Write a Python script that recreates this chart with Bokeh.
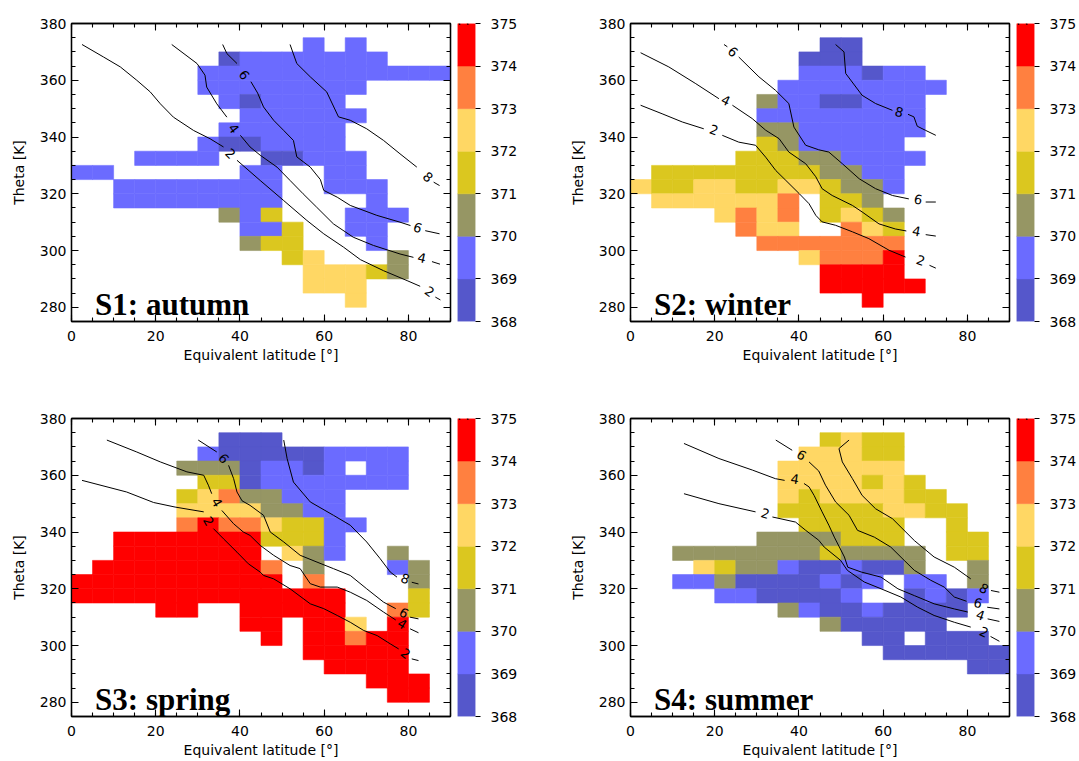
import math
from bokeh.plotting import figure
from bokeh.layouts import row, column
from bokeh.models import ColumnDataSource, LinearAxis, FixedTicker, Range1d, Label
from bokeh.embed import file_html
from bokeh.resources import INLINE
from bokeh.core.properties import value

FONT = "DejaVu Sans"

# ---------------- data ----------------
# colour scale (ppmv)
ppmv_bounds = [368, 369, 370, 371, 372, 373, 374, 375]
ppmv_colors = ["#5557CB", "#6B6BFF", "#969664", "#DBC71F", "#FFD764", "#FF8040", "#FF0000"]

# grid cells: 5 deg equivalent latitude x 5 K theta
lat_cell_left = list(range(0, 90, 5))            # 18 columns
theta_row_bottom = list(range(375, 270, -5))     # 21 rows, top to bottom
# each char: '.' = no data, digit k = mean CO2 in bin [368+k, 369+k) ppmv
s1_cells = [
    "..................",
    "...........1.1....",
    ".......01111111...",
    "......111111111111",
    "......11111111....",
    ".......101111.....",
    "........111111....",
    ".......111111.....",
    "......1001111.....",
    "...1111..00111....",
    "11......11..11....",
    "..11111111..111...",
    "..11111111....1...",
    ".......213...111..",
    "........113..11...",
    "........233...1...",
    "..........34...2..",
    "...........44432..",
    "...........444....",
    ".............4....",
    "..................",
]
s2_cells = [
    "..................",
    ".........00.......",
    "........000.......",
    "........111011....",
    ".......11111111...",
    "......21100111....",
    "......11111111....",
    "......22111111....",
    "......3211111.....",
    ".....333221111....",
    ".333333332211.....",
    "4334433443221.....",
    ".4444445.332......",
    "....4545.3432.....",
    ".....544..543.....",
    "......5555555.....",
    "........45556.....",
    ".........6666.....",
    ".........66666....",
    "...........6......",
    "..................",
]
s3_cells = [
    "..................",
    ".......000........",
    "......1000001111..",
    ".....22201101.11..",
    "......3301111111..",
    ".....34522111.....",
    ".....44442211.....",
    ".....565543311....",
    "..66666663331.....",
    "..6666666.421..2..",
    ".666666665.2...12.",
    "6666666666.5....2.",
    "6666666666666...3.",
    "....66..66666..53.",
    "........66.664.6..",
    ".........6.66566..",
    "...........66666..",
    "............6666..",
    "..............666.",
    "...............66.",
    "..................",
]
s4_cells = [
    "..................",
    ".........3433.....",
    "........44433.....",
    ".......444444.....",
    ".......4444343....",
    ".......43444433...",
    ".......333334433..",
    "........33333..3..",
    "......2222333..33.",
    "..222222232222.33.",
    "...43221001002..2.",
    "..1120000101.11.2.",
    "....1100001..0101.",
    ".......210010000..",
    ".........200000...",
    "...........00.000.",
    "............000000",
    "................00",
    "..................",
    "..................",
    "..................",
]

# PV contours (lat, theta); None = break where a label sits
s1_pv2 = [(2.5,372.6),(7.6,368.2),(11.6,364.7),(15.5,360.0),(18.7,355.9),(21.1,351.7),(24.2,347.0),(29.0,342.3),(32.9,339.4),(36.1,336.5),None,(39.3,331.8),(44.8,324.7),(50.4,317.6),(55.9,310.6),(59.9,305.9),(64.6,301.2),(68.6,296.8),(74.1,292.9),(79.7,289.4),(82.8,287.4),None,(86.4,283.6),(87.6,282.6)]
s1_pv4 = [(23.8,372.6),(29.8,365.9),(31.7,361.8),(32.1,357.6),(34.5,351.7),(36.9,347.0),None,(40.1,340.6),(42.4,336.5),(44.8,333.6),(48.8,329.4),(51.9,324.7),(55.0,320.0),(58.2,315.3),(62.2,309.4),(66.9,304.7),(71.7,301.8),(78.0,298.8),(81.2,297.6),None,(85.6,296.1),(87.5,295.2)]
s1_pv6 = [(35.9,372.6),(36.9,369.4),(39.3,365.9),None,(42.6,359.5),(44.2,355.5),(45.6,350.6),(48.0,345.9),(50.4,342.3),(52.7,338.8),(53.5,333.0),(56.7,329.4),(59.1,325.0),(59.9,321.2),(63.1,318.8),(66.2,315.9),(72.5,312.4),(78.0,310.0),(80.5,308.8),None,(84.0,307.0),(87.4,305.9)]
s1_pv8 = [(51.9,372.6),(53.5,365.9),(56.7,361.2),(60.6,355.9),(63.4,347.1),(66.2,345.9),(70.1,342.9),(74.1,338.8),(78.0,334.1),(82.0,329.4),None,(86.0,324.1),(87.4,322.9)]
s1_pv_labels = [(2,37.7,334.1),(2,85.0,285.5),(4,38.5,343.0),(4,83.2,297.4),(6,41.0,361.8),(6,82.2,308.0),(8,84.6,325.9)]

s2_pv2 = [(2.4,351.2),(7.5,348.2),(12.3,345.3),(17.4,342.9),None,(21.8,340.6),(25.7,338.2),(29.7,337.1),(32.1,332.9),(34.5,328.2),(36.9,324.7),(40.1,320.0),(42.4,316.5),(44.0,312.4),(45.5,310.1),(48.7,308.9),(52.7,306.6),(56.6,304.2),(61.4,300.1),(65.3,297.7),None,(71.0,294.8),(72.5,293.8)]
s2_pv4 = [(2.4,369.7),(9.1,364.7),(15.5,358.8),(21.0,353.5),None,(24.2,351.2),(28.9,346.5),(32.1,342.4),(35.3,339.4),(37.6,334.7),(41.6,330.6),(44.0,326.0),(45.5,321.8),(47.9,319.4),(52.7,315.9),(55.0,313.6),(59.0,309.4),(62.9,307.6),(65.5,306.9),None,(70.1,305.6),(72.5,305.1)]
s2_pv6 = [(22.2,372.6),(23.0,371.8),None,(25.7,368.2),(30.5,361.2),(34.4,356.5),(37.6,351.8),(38.8,343.5),(41.6,337.1),(44.7,335.5),(47.1,334.7),(50.3,330.6),(54.3,325.3),(58.2,321.8),(62.2,319.4),(66.1,318.2),None,(70.1,317.1),(72.5,317.1)]
s2_pv8 = [(48.7,372.6),(50.7,370.0),(51.1,362.4),(55.0,354.7),(58.2,351.8),(62.2,349.4),None,(65.9,348.0),(67.3,347.1),(68.1,343.8),(70.0,342.4),(72.5,340.6)]
s2_pv_labels = [(2,19.8,342.4),(2,68.9,296.5),(4,22.6,352.9),(4,67.9,306.8),(6,24.3,370.0),(6,68.3,318.0),(8,63.8,348.8)]

s3_pv2 = [(2.5,358.2),(13.1,354.1),(19.5,350.4),(24.6,348.8),(31.4,347.1),None,(33.7,341.2),(36.1,337.6),(39.3,332.9),(42.0,328.8),(44.8,325.9),(45.6,324.7),(48.0,323.5),(51.9,320.0),(56.7,314.7),(59.9,313.0),(63.1,310.6),(66.2,308.2),(69.4,305.3),(72.6,303.5),(75.7,300.6),(77.7,298.8),None,(80.8,295.3),(82.4,294.7)]
s3_pv4 = [(8.4,372.4),(15.5,368.2),(21.1,364.7),(27.4,361.2),(31.4,360.0),(32.5,356.5),(33.3,353.5),None,(35.7,347.6),(38.5,342.9),(40.8,340.0),(42.4,338.8),(44.8,335.3),(48.0,331.8),(51.9,328.2),(54.3,327.1),(56.7,321.8),(59.1,320.6),(63.1,320.6),(66.2,318.8),(70.1,315.9),(74.1,311.8),(77.0,309.0),None,(80.4,305.9),(82.4,304.5)]
s3_pv6 = [(30.1,372.4),(34.5,368.2),None,(37.3,363.5),(38.5,358.8),(39.3,354.1),(40.5,351.0),(42.4,349.4),(45.6,345.9),(47.2,340.0),(50.4,336.5),(54.3,331.8),(58.3,329.4),(62.2,327.1),(66.2,324.7),(70.1,320.0),(74.1,315.3),(77.0,313.0),None,(80.4,310.0),(82.4,309.4)]
s3_pv8 = [(50.4,372.4),(51.2,365.9),(52.7,357.6),(56.7,350.6),(62.2,345.9),(66.2,342.4),(70.1,336.5),(73.3,330.6),(75.7,325.9),(77.3,324.1),None,(80.8,322.3),(82.4,321.7)]
s3_pv_labels = [(2,32.5,343.8),(2,79.3,297.1),(4,34.5,350.4),(4,78.5,307.6),(6,36.1,365.9),(6,78.9,311.5),(8,79.2,323.5)]

s4_pv2 = [(12.7,353.5),(21.0,350.0),(29.7,347.1),None,(33.7,345.3),(39.2,343.5),(41.6,340.6),(44.7,337.1),(46.0,334.7),(49.9,330.0),(51.5,326.5),(55.5,322.4),(59.5,320.0),(64.2,317.1),(68.2,313.5),(72.1,310.6),(76.9,308.2),(80.8,306.5),None,(85.5,303.2),(87.6,301.5)]
s4_pv4 = [(12.7,371.2),(21.0,365.9),(29.0,361.8),(34.4,358.8),(36.6,358.2),None,(41.2,357.1),(42.4,355.9),(43.6,352.9),(45.5,347.1),(47.1,342.4),(48.4,338.2),(50.8,331.2),(51.6,327.6),(54.8,325.9),(59.5,324.1),(63.5,320.0),(67.4,317.6),(72.1,314.7),(76.9,312.9),(80.1,311.8),None,(84.8,309.4),(87.6,308.5)]
s4_pv6 = [(34.5,372.4),(38.4,368.8),None,(42.4,364.7),(44.7,361.5),(46.3,356.5),(48.7,350.6),(51.9,345.9),(53.9,340.6),(57.9,338.2),(61.8,334.7),(65.0,330.0),(67.4,326.5),(71.3,323.0),(74.5,320.6),(76.9,317.1),(79.8,315.6),None,(84.7,313.5),(87.6,312.9)]
s4_pv8 = [(51.9,372.4),(49.5,369.4),(50.3,364.7),(52.7,358.8),(55.0,352.9),(58.2,348.2),(62.2,344.7),(67.4,337.0),(72.1,331.2),(76.9,327.6),(80.8,323.5),None,(85.6,319.4),(87.6,318.8)]
s4_pv_labels = [(2,32.0,346.5),(2,83.9,304.7),(4,39.0,358.6),(4,83.1,310.6),(6,40.6,367.1),(6,82.5,315.0),(8,83.9,320.0)]

x_ticks = [0, 20, 40, 60, 80]
x_minor = list(range(0, 91, 5))
y_ticks = [280, 300, 320, 340, 360, 380]
y_minor = list(range(275, 381, 5))

# ---------------- layout constants ----------------
FRAME_W, FRAME_H = 379, 298
KX, KY = FRAME_W / 90.0, FRAME_H / 105.0


def style_axis(ax, show_labels, ticks, minor):
    ax.ticker = FixedTicker(ticks=ticks, minor_ticks=minor)
    ax.axis_line_width = 1.3
    ax.axis_line_color = "black"
    ax.major_tick_in = 7
    ax.major_tick_out = 0
    ax.minor_tick_in = 4
    ax.minor_tick_out = 0
    ax.major_tick_line_width = 1.1
    ax.minor_tick_line_width = 1.1
    ax.major_tick_line_color = "black"
    ax.minor_tick_line_color = "black"
    if show_labels:
        ax.major_label_text_font = FONT
        ax.major_label_text_font_size = "14px"
        ax.major_label_text_color = "black"
        ax.axis_label_text_font = FONT
        ax.axis_label_text_font_size = "14px"
        ax.axis_label_text_font_style = "normal"
        ax.axis_label_text_color = "black"
    else:
        ax.major_label_overrides = {t: "" for t in ticks}
        ax.major_label_standoff = 0


def make_panel(cells, contours, labels, title, left_border, bottom_border):
    w = left_border + FRAME_W + 6
    h = 23 + FRAME_H + bottom_border
    p = figure(width=w, height=h, x_range=Range1d(0, 90), y_range=Range1d(275, 380),
               output_backend="svg", toolbar_location=None, tools="",
               min_border_left=left_border, min_border_right=6,
               min_border_top=23, min_border_bottom=bottom_border)
    p.xgrid.visible = False
    p.ygrid.visible = False
    p.outline_line_color = "black"
    p.outline_line_width = 1.3
    p.background_fill_color = "white"
    p.border_fill_color = "white"

    # cells
    lefts, rights, bottoms, tops, vals, cols = [], [], [], [], [], []
    for r, rowstr in enumerate(cells):
        for c, ch in enumerate(rowstr):
            if ch == ".":
                continue
            v = ppmv_bounds[0] + int(ch) + 0.5
            k = int(v - ppmv_bounds[0])
            lefts.append(lat_cell_left[c]); rights.append(lat_cell_left[c] + 5)
            bottoms.append(theta_row_bottom[r]); tops.append(theta_row_bottom[r] + 5)
            vals.append(v); cols.append(ppmv_colors[k])
    src = ColumnDataSource(dict(left=lefts, right=rights, bottom=bottoms, top=tops, v=vals, color=cols))
    p.quad(left="left", right="right", bottom="bottom", top="top", source=src,
           fill_color="color", line_color="color", line_width=0.6)

    # contours
    nan = float("nan")
    for lvl, pts in contours:
        xs = [nan if q is None else q[0] for q in pts]
        ys = [nan if q is None else q[1] for q in pts]
        p.line(xs, ys, line_color="black", line_width=1.0)

    # contour labels, oriented along the line at their gap
    lx, ly, lt, la = [], [], [], []
    cmap = dict(contours)
    for lvl, x, y in labels:
        pts = cmap[lvl]
        best, ang = None, 0.0
        for k, q in enumerate(pts):
            if q is None and 0 < k < len(pts) - 1:
                a, b = pts[k - 1], pts[k + 1]
                mx, my = (a[0] + b[0]) / 2, (a[1] + b[1]) / 2
                d = (mx - x) ** 2 + (my - y) ** 2
                if best is None or d < best:
                    best = d
                    ang = math.atan2((b[1] - a[1]) * KY, (b[0] - a[0]) * KX)
        lx.append(x); ly.append(y); lt.append(str(lvl)); la.append(ang)
    p.text(x=lx, y=ly, text=lt, angle=la, text_align="center", text_baseline="middle",
           text_font=value(FONT), text_font_size="13px", text_color="black")

    p.add_layout(Label(x=5.6, y=280.9, text=title, text_font="Liberation Serif",
                       text_font_style="bold", text_font_size="31px", text_color="black",
                       text_baseline="alphabetic", text_align="left"))

    # axes on all four sides, ticks inward
    style_axis(p.xaxis[0], True, x_ticks, x_minor)
    style_axis(p.yaxis[0], True, y_ticks, y_minor)
    p.xaxis[0].axis_label = "Equivalent latitude [°]"
    p.yaxis[0].axis_label = "Theta [K]"
    p.xaxis[0].major_label_standoff = 9
    p.xaxis[0].axis_label_standoff = 3
    p.yaxis[0].major_label_standoff = 5
    p.yaxis[0].axis_label_standoff = 10
    top_ax = LinearAxis()
    style_axis(top_ax, False, x_ticks, x_minor)
    p.add_layout(top_ax, "above")
    right_ax = LinearAxis()
    style_axis(right_ax, False, y_ticks, y_minor)
    p.add_layout(right_ax, "right")
    return p


def make_colorbar(right_border, bottom_border):
    w = 1 + 18 + right_border
    h = 23 + FRAME_H + bottom_border
    cb = figure(width=w, height=h, x_range=Range1d(0, 1),
                y_range=Range1d(ppmv_bounds[0], ppmv_bounds[-1]),
                y_axis_location="right", output_backend="svg", toolbar_location=None, tools="",
                min_border_left=1, min_border_right=right_border,
                min_border_top=23, min_border_bottom=bottom_border)
    cb.xgrid.visible = False
    cb.ygrid.visible = False
    cb.xaxis.visible = False
    cb.outline_line_color = None
    cb.background_fill_color = "white"
    cb.border_fill_color = "white"
    cb.quad(left=0, right=1, bottom=ppmv_bounds[:-1], top=ppmv_bounds[1:],
            fill_color=ppmv_colors, line_color=ppmv_colors, line_width=0.5)
    ax = cb.yaxis[0]
    ax.ticker = FixedTicker(ticks=ppmv_bounds, minor_ticks=[])
    ax.axis_line_color = None
    ax.major_tick_in = 0
    ax.major_tick_out = 5
    ax.major_tick_line_color = "black"
    ax.major_tick_line_width = 1.1
    ax.major_label_standoff = 10
    ax.major_label_text_font = FONT
    ax.major_label_text_font_size = "14px"
    ax.major_label_text_color = "black"
    cb.add_layout(Label(x=0, y=ppmv_bounds[-1], y_offset=6, text="ppmv", text_font=FONT,
                        text_font_size="13px", text_color="black",
                        text_baseline="alphabetic", text_align="left"))
    return cb


p1 = make_panel(s1_cells, [(2, s1_pv2), (4, s1_pv4), (6, s1_pv6), (8, s1_pv8)], s1_pv_labels,
                "S1: autumn", 71, 74)
p2 = make_panel(s2_cells, [(2, s2_pv2), (4, s2_pv4), (6, s2_pv6), (8, s2_pv8)], s2_pv_labels,
                "S2: winter", 70, 74)
p3 = make_panel(s3_cells, [(2, s3_pv2), (4, s3_pv4), (6, s3_pv6), (8, s3_pv8)], s3_pv_labels,
                "S3: spring", 71, 45)
p4 = make_panel(s4_cells, [(2, s4_pv2), (4, s4_pv4), (6, s4_pv6), (8, s4_pv8)], s4_pv_labels,
                "S4: summer", 70, 45)
cb1 = make_colorbar(85, 74)
cb2 = make_colorbar(45, 74)
cb3 = make_colorbar(85, 45)
cb4 = make_colorbar(45, 45)

layout = column(row(p1, cb1, p2, cb2, spacing=0), row(p3, cb3, p4, cb4, spacing=0), spacing=0)

with open("out.html", "w") as f:
    f.write(file_html(layout, INLINE))
